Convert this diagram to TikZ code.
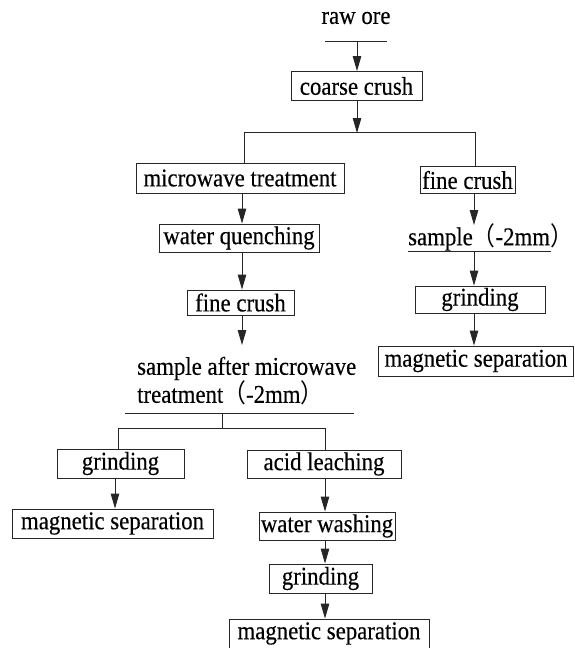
\documentclass[tikz,border=0pt]{standalone}
\usepackage{fontspec}
\usepackage{graphicx}
\setmainfont{Liberation Serif}[FakeBold=0.35]
\newfontfamily\cjk{Noto Sans CJK SC}
\usetikzlibrary{arrows.meta}
\newcommand{\lp}{{\cjk （}}
\newcommand{\rp}{{\cjk ）}}
\newcommand{\T}[1]{\scalebox{1}[1.12]{#1}}
\begin{document}
\begin{tikzpicture}[x=1pt,y=-1pt,
  box/.style={draw=black!85,line width=0.9pt,inner sep=0pt,font=\fontsize{22.8}{26}\selectfont},
  lbl/.style={inner sep=0pt,font=\fontsize{22.8}{28}\selectfont},
  ln/.style={draw=black!85,line width=0.9pt},
  arr/.style={ln,-{Triangle[length=15pt,width=8.5pt]}}]
\useasboundingbox (0,0) rectangle (574,648);
% top
\node[lbl] (raw) at (356,18) {\T{raw ore}};
\coordinate (rawL) at (325,41);
\coordinate (rawR) at (387,41);
\draw[ln] (rawL) -- (rawR);
\node[box,minimum width=131pt,minimum height=29pt] (coarse) at (356.5,86) {\T{coarse crush}};
\draw[arr] (raw.south |- rawL) ++(1,0) -- (coarse.north -| 357,0);
\coordinate (hubA) at (357,132);
\coordinate (hubL) at (244,132);
\coordinate (hubR) at (475,132);
\draw[arr] (coarse.south -| hubA) -- ([yshift=-1pt]hubA);
\draw[ln] (hubL) -- (hubR);
% left branch
\node[box,minimum width=208pt,minimum height=30pt] (micro) at (240,178) {\T{microwave treatment}};
\node[box,minimum width=160pt,minimum height=28pt] (waterq) at (239,238) {\T{water quenching}};
\node[box,minimum width=107pt,minimum height=25pt] (fineL) at (240.5,302.5) {\T{fine crush}};
\node[lbl,align=left,anchor=west] (sampL) at (137,381) {\T{sample after microwave}\\\T{treatment\lp-2mm\rp}};
\draw[ln] (hubL) -- (micro.north -| hubL);
\draw[arr] (micro.south -| 242,0) -- (waterq.north -| 242,0);
\draw[arr] (waterq.south -| 242,0) -- (fineL.north -| 242,0);
\draw[arr] (fineL.south -| 242,0) -- (242,345);
% right branch
\node[box,minimum width=95pt,minimum height=27pt] (fineR) at (467.5,180) {\T{fine crush}};
\draw[ln] (hubR) -- (fineR.north -| hubR);
\node[lbl,anchor=west] (sampR) at (408,237) {\T{sample\lp-2mm\rp}};
\coordinate (sRL) at (408,251);
\coordinate (sRR) at (551,251);
\draw[ln] (sRL) -- (sRR);
\draw[arr] (fineR.south -| 474,0) -- (474,225);
\node[box,minimum width=130pt,minimum height=27pt] (grindR) at (480,299.5) {\T{grinding}};
\node[box,minimum width=195pt,minimum height=30pt] (magR) at (476,361) {\T{magnetic separation}};
\draw[arr] (474,251) -- (grindR.north -| 474,0);
\draw[arr] (grindR.south -| 474,0) -- (magR.north -| 474,0);
% bottom split
\coordinate (bL) at (125,413);
\coordinate (bR) at (354,413);
\draw[ln] (bL) -- (bR);
\coordinate (hubB) at (222,413);
\coordinate (hubBL) at (118,428);
\coordinate (hubBR) at (325,428);
\draw[ln] (hubB) -- (hubB |- hubBL);
\draw[ln] (hubBL) -- (hubBR);
\node[box,minimum width=127pt,minimum height=29pt] (grindL) at (120.5,463.5) {\T{grinding}};
\node[box,minimum width=201pt,minimum height=29pt] (magL) at (112.5,523.5) {\T{magnetic separation}};
\draw[ln] (hubBL) -- (grindL.north -| hubBL);
\draw[arr] (grindL.south -| 115,0) -- (magL.north -| 115,0);
\node[box,minimum width=154pt,minimum height=28pt] (acid) at (324,464) {\T{acid leaching}};
\node[box,minimum width=136pt,minimum height=28pt] (wash) at (327,526) {\T{water washing}};
\node[box,minimum width=103pt,minimum height=29pt] (grind2) at (320.5,578.5) {\T{grinding}};
\node[box,minimum width=200pt,minimum height=29pt] (mag2) at (329,633.5) {\T{magnetic separation}};
\draw[ln] (hubBR) -- (acid.north -| hubBR);
\draw[arr] (acid.south -| 325,0) -- (wash.north -| 325,0);
\draw[arr] (wash.south -| 325,0) -- (grind2.north -| 325,0);
\draw[arr] (grind2.south -| 325,0) -- (mag2.north -| 325,0);
\end{tikzpicture}
\end{document}
